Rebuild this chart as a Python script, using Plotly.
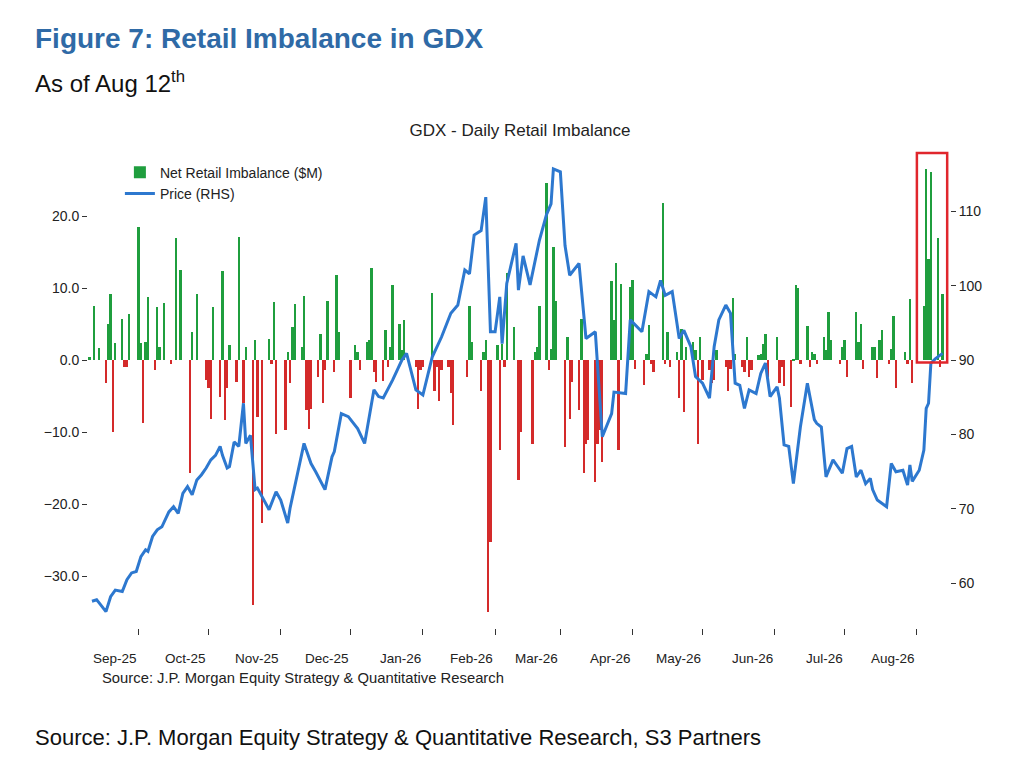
import pandas as pd
import plotly.graph_objects as go

# daily net retail imbalance ($M), business days ending Aug 12 2026
imbalance = [
    0.5, 0, 7.6, 0, 1.7, -3.2, 5.1, 9.2, -10, 2.4,
    5.8, -1, -1, 6.4, 0, 18.5, 2.4, -8.7, 2.5, 8.8,
    -1.4, 7.4, 1.9, 0, 7.9, -0.5, 0, 17, 0, 12.6,
    0, -15.7, 3.9, 0, 9.2, 0, -2.8, -3.9, -8.1, 7.4,
    -5.1, 12.4, -8.3, -3.9, 2.1, -3, 17.1, 0, -6, 1.8,
    -34, 2.8, -7.9, 0, -22.6, 3, -0.5, 8.1, -10.2, 0,
    -9.7, 1.2, -3.2, 4.6, 7.8, 1.8, 8.9, -6.9, -9.6, -6.7,
    -2.3, 3.7, -6, -1.4, 8.2, -1.6, 11.8, 3.9, 0, 0,
    -5.3, 0, 2.1, 1.2, -1.4, 2.5, 2.8, 12.8, -1.6, -3,
    -2.9, 4.2, -1, 1.8, 10.4, 5.1, 1.5, 5.6, 0, 0,
    -1, -6.7, -1.4, -1, 0, 9.3, -4.2, -1, -5.6, -1.4,
    -1, -4.6, -9, 0, 0, 0, -2.3, 7.6, 2.5, 0,
    -4.2, 1.2, 2.8, -35, -25.3, 2.1, -12.5, 2.3, -1, 12.1,
    4.6, 0, -16.7, -10, 0, 0, -11.6, 1.2, 1.8, 7.6,
    24.7, -1.4, 1.6, 15.7, 8.2, 0, -12.1, 3.3, -8.1, -3,
    -6.9, 5.8, -15.7, -11.6, -11.1, -16.9, -11.6, -9.7, -14.1, 0,
    11, 5.6, 13.5, -12.5, 10.6, 1.8, 10.2, 11.1, -1.2, 0,
    -3.4, 0.9, 4.9, -0.5, -1.6, 0, 21.8, -0.5, 3.9, -1,
    1.2, -5.3, 4.4, -7.2, 1.9, 2.5, 1.4, -11.6, 3.2, -2.8,
    -1.4, -3.2, -2.8, 1.4, 0, -1, -4.2, -1.2, 8.7, 0.9,
    -1, -1.6, 3.3, -2.3, -1.4, 0.7, 0.9, 2.3, 3.6, -2.3,
    0, 3.3, -3.2, -1, -3.6, -6.5, 0.2, 10.4, 10, -0.5,
    4.7, -1, 1.2, 0.9, -0.5, 3.2, 1.5, 6.7, 2.8, 0,
    -0.5, 1.8, 2.8, -2.3, 0, 6.7, 2.5, 5.1, -1.2, 0,
    1.8, 1.8, -2.5, 2.8, 4.2, -0.5, 1.6, 6.1, -3.9, 0,
    1.2, -0.5, 8.5, -3.2, 0, 0, 7.6, 26.6, 14.1, 26.1,
    17, -1, 9.2,
]
bar_dates = pd.bdate_range(end="2026-08-12", periods=len(imbalance))

price_dates = [
    "2025-08-12", "2025-08-14", "2025-08-15", "2025-08-18", "2025-08-20",
    "2025-08-22", "2025-08-25", "2025-08-27", "2025-08-29", "2025-08-31",
    "2025-09-02", "2025-09-04", "2025-09-05", "2025-09-07", "2025-09-09",
    "2025-09-11", "2025-09-14", "2025-09-16", "2025-09-18", "2025-09-20",
    "2025-09-22", "2025-09-24", "2025-09-26", "2025-09-28", "2025-09-30",
    "2025-10-02", "2025-10-04", "2025-10-06", "2025-10-07", "2025-10-09",
    "2025-10-10", "2025-10-12", "2025-10-14", "2025-10-16", "2025-10-17",
    "2025-10-19", "2025-10-21", "2025-10-22", "2025-10-27", "2025-10-30",
    "2025-11-01", "2025-11-04", "2025-11-05", "2025-11-11", "2025-11-14",
    "2025-11-16", "2025-11-20", "2025-11-23", "2025-11-24", "2025-11-27",
    "2025-11-30", "2025-12-04", "2025-12-07", "2025-12-11", "2025-12-13",
    "2025-12-15", "2025-12-19", "2025-12-23", "2025-12-25", "2025-12-29",
    "2026-01-01", "2026-01-05", "2026-01-09", "2026-01-13", "2026-01-16",
    "2026-01-19", "2026-01-21", "2026-01-23", "2026-01-26", "2026-01-28",
    "2026-01-30", "2026-02-01", "2026-02-03", "2026-02-04", "2026-02-06",
    "2026-02-08", "2026-02-10", "2026-02-11", "2026-02-13", "2026-02-16",
    "2026-02-20", "2026-02-23", "2026-02-25", "2026-02-26", "2026-03-01",
    "2026-03-03", "2026-03-05", "2026-03-09", "2026-03-12", "2026-03-16",
    "2026-03-19", "2026-03-23", "2026-03-24", "2026-03-29", "2026-03-31",
    "2026-04-05", "2026-04-08", "2026-04-11", "2026-04-13", "2026-04-15",
    "2026-04-18", "2026-04-21", "2026-04-23", "2026-04-26", "2026-04-28",
    "2026-05-01", "2026-05-04", "2026-05-06", "2026-05-08", "2026-05-11",
    "2026-05-13", "2026-05-15", "2026-05-17", "2026-05-19", "2026-05-21",
    "2026-05-24", "2026-05-26", "2026-05-28", "2026-05-30", "2026-06-02",
    "2026-06-03", "2026-06-05", "2026-06-07", "2026-06-09", "2026-06-12",
    "2026-06-15", "2026-06-18", "2026-06-19", "2026-06-21", "2026-06-23",
    "2026-06-26", "2026-06-28", "2026-06-30", "2026-07-02", "2026-07-04",
    "2026-07-06", "2026-07-08", "2026-07-10", "2026-07-12", "2026-07-13",
    "2026-07-15", "2026-07-19", "2026-07-21", "2026-07-23", "2026-07-26",
    "2026-07-28", "2026-07-29", "2026-07-30", "2026-08-02", "2026-08-04",
    "2026-08-05", "2026-08-06", "2026-08-07", "2026-08-09", "2026-08-12",
]
price = [
    57.6, 57.8, 57.4, 56.2, 58.2, 59.1, 58.9, 60.5, 61.4, 61.6,
    63.6, 64.5, 64.3, 66.3, 67.2, 67.6, 69.6, 70.3, 69.4, 72.1,
    73.0, 71.9, 73.9, 74.6, 75.5, 76.6, 77.2, 78.4, 77.2, 75.5,
    75.7, 79.0, 78.4, 84.2, 78.8, 79.9, 72.6, 72.8, 69.9, 72.3,
    71.2, 68.1, 70.1, 78.8, 76.1, 75.0, 72.6, 77.0, 77.7, 82.8,
    82.4, 80.8, 78.8, 86.0, 85.1, 84.9, 87.3, 90.0, 90.9, 86.0,
    85.3, 90.4, 93.1, 96.3, 97.4, 102.1, 101.6, 106.8, 107.4, 111.9,
    93.8, 93.8, 98.5, 92.2, 100.3, 102.8, 105.7, 99.4, 104.0, 100.1,
    106.1, 109.5, 111.0, 115.7, 115.3, 105.4, 101.4, 103.0, 92.9, 93.8,
    79.7, 82.8, 85.7, 85.5, 95.4, 93.8, 99.2, 98.5, 100.7, 98.7,
    99.2, 92.9, 94.0, 91.8, 87.8, 86.9, 84.9, 91.8, 95.4, 97.4,
    96.3, 86.9, 86.6, 83.5, 86.0, 85.5, 88.2, 89.6, 85.1, 86.4,
    84.9, 78.6, 78.4, 73.4, 81.0, 86.9, 82.0, 81.5, 81.0, 74.3,
    76.6, 75.7, 74.8, 78.1, 78.4, 74.3, 75.2, 73.4, 74.1, 72.6,
    71.2, 70.3, 76.1, 75.0, 75.2, 73.2, 75.9, 73.7, 75.2, 77.9,
    83.5, 84.2, 89.6, 90.2, 90.9,
]

month_starts = pd.date_range("2025-09-01", "2026-08-01", freq="MS")
month_labels = [d.strftime("%b-%y") for d in month_starts]

FONT = "Liberation Sans, Arial, sans-serif"
GREEN = "#1f9e3e"
RED = "#d42a2a"
BLUE = "#2d78cf"

pos = [v if v >= 0 else None for v in imbalance]
neg = [v if v < 0 else None for v in imbalance]

fig = go.Figure()
fig.add_trace(go.Bar(x=bar_dates, y=pos, name="Net Retail Imbalance ($M)",
                     marker=dict(color=GREEN, line=dict(width=0))))
fig.add_trace(go.Bar(x=bar_dates, y=neg, name="neg", showlegend=False,
                     marker=dict(color=RED, line=dict(width=0))))
fig.add_trace(go.Scatter(x=price_dates, y=price, name="Price (RHS)", yaxis="y2",
                         mode="lines", line=dict(color=BLUE, width=3)))

# red box round the latest days
fig.add_shape(type="rect", xref="x", yref="y", x0="2026-08-01", x1="2026-08-14",
              y0=-0.3, y1=28.8, line=dict(color="#e0262c", width=2.5))

annotations = [
    dict(text="<b>Figure 7: Retail Imbalance in GDX</b>", x=-0.064, y=1.229,
         font=dict(size=28, color="#2f6aa6")),
    dict(text="As of Aug 12<sup>th</sup>", x=-0.064, y=1.1375,
         font=dict(size=24, color="#111111")),
    dict(text="Source: J.P. Morgan Equity Strategy & Quantitative Research",
         x=0.014, y=-0.104, font=dict(size=14.8, color="#222222")),
    dict(text="Source: J.P. Morgan Equity Strategy & Quantitative Research, S3 Partners",
         x=-0.064, y=-0.229, font=dict(size=22, color="#111111")),
]
for a in annotations:
    a.update(xref="paper", yref="paper", xanchor="left", yanchor="middle",
             showarrow=False)
for d, lab in zip(month_starts, month_labels):
    annotations.append(dict(text=lab, x=d, y=-0.0635, xref="x", yref="paper",
                            xanchor="right", yanchor="middle", showarrow=False,
                            font=dict(size=13.5, color="#222222")))

fig.update_layout(
    width=1024, height=768,
    margin=dict(l=80, r=82, t=140, b=148),
    paper_bgcolor="white", plot_bgcolor="white",
    font=dict(family=FONT, size=14, color="#222222"),
    barmode="relative", bargap=0,
    title=dict(text="GDX - Daily Retail Imbalance", x=0.5, xanchor="center",
               y=0.841, yanchor="middle", font=dict(size=17, color="#222222")),
    showlegend=True,
    legend=dict(x=0.037, y=0.982, xanchor="left", yanchor="top",
                bgcolor="rgba(0,0,0,0)", font=dict(size=14), tracegroupgap=2),
    xaxis=dict(type="date", range=["2025-08-10 07:00", "2026-08-15 05:00"],
               tickvals=month_starts, showticklabels=False,
               ticks="outside", ticklen=6, tickcolor="#333333",
               showgrid=False, zeroline=False, showline=False),
    yaxis=dict(range=[-37.2, 29.5], tickvals=[-30, -20, -10, 0, 10, 20],
               tickformat=".1f", ticks="outside", ticklen=5, tickcolor="#333333",
               showgrid=False, zeroline=False, showline=False),
    yaxis2=dict(range=[54.0, 118.5], tickvals=[60, 70, 80, 90, 100, 110],
                overlaying="y", side="right", ticks="outside", ticklen=5,
                tickcolor="#333333", showgrid=False, zeroline=False,
                showline=False),
    annotations=annotations,
)

fig.write_html("out.html")
